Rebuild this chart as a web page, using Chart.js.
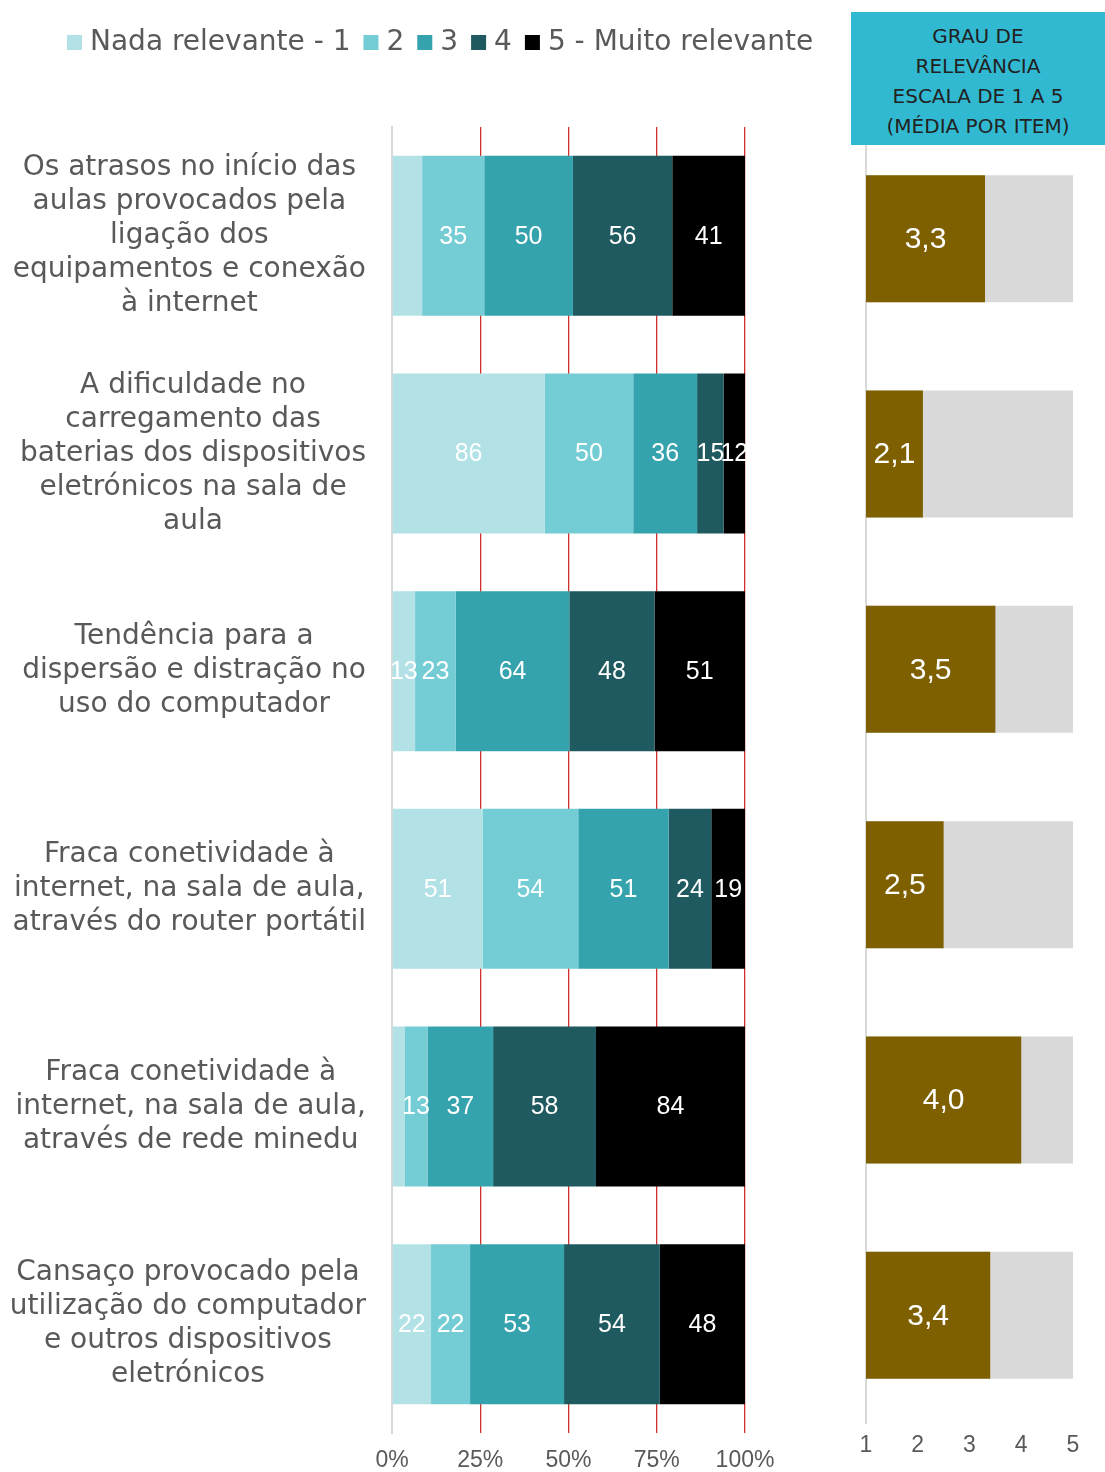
<!DOCTYPE html>
<html lang="pt">
<head>
<meta charset="UTF-8" />
<title>Grau de relevância</title>
<script src="https://cdn.jsdelivr.net/npm/chart.js"></script>
<style>
  body { margin: 0; background: #fff; }
  .pagina { position: relative; width: 1105px; height: 1472px; overflow: hidden; }
  .graf-esq { position: absolute; left: 0; top: 0; width: 850px; height: 1472px; }
  .graf-dir { position: absolute; left: 840px; top: 0; width: 265px; height: 1472px; }
  .caixa-titulo {
    position: absolute; left: 851px; top: 12px; width: 254px; height: 133px;
    background: #31B9D1; color: #222;
    font: 20px "DejaVu Sans", sans-serif; line-height: 30px; text-align: center;
    box-sizing: border-box; padding-top: 9px;
  }
</style>
</head>
<body>
<div class="pagina">
  <div class="graf-esq"><canvas id="grafEsq"></canvas></div>
  <div class="graf-dir"><canvas id="grafDir"></canvas></div>
  <div class="caixa-titulo">GRAU DE<br>RELEVÂNCIA<br>ESCALA DE 1 A 5<br>(MÉDIA POR ITEM)</div>
</div>

<script>
  // dados
  const categorias = [
    ["Os atrasos no início das", "aulas provocados pela", "ligação dos", "equipamentos e conexão", "à internet"],
    ["A dificuldade no", "carregamento das", "baterias dos dispositivos", "eletrónicos na sala de", "aula"],
    ["Tendência para a", "dispersão e distração no", "uso do computador"],
    ["Fraca conetividade à", "internet, na sala de aula,", "através do router portátil"],
    ["Fraca conetividade à", "internet, na sala de aula,", "através de rede minedu"],
    ["Cansaço provocado pela", "utilização do computador", "e outros dispositivos", "eletrónicos"]
  ];
  const nomesSeries = ["Nada relevante - 1", "2", "3", "4", "5 - Muito relevante"];
  const nivel1 = [17, 86, 13, 51, 7, 22];
  const nivel2 = [35, 50, 23, 54, 13, 22];
  const nivel3 = [50, 36, 64, 51, 37, 53];
  const nivel4 = [56, 15, 48, 24, 58, 54];
  const nivel5 = [41, 12, 51, 19, 84, 48];
  const mediaItem = [3.3, 2.1, 3.5, 2.5, 4.0, 3.4];
  const escalaMax = [5, 5, 5, 5, 5, 5];
  const ticksPct = [0, 25, 50, 75, 100];
  const ticksEscala = [1, 2, 3, 4, 5];
  // rótulos que não aparecem no original (serie, categoria) - só no gráfico da esquerda
  const semRotulo = [[0, 0], [0, 4]];

  const cores = ["#B2E2E6", "#74CDD5", "#35A3AD", "#1E5A5F", "#000000"];
  const cinzaTexto = "#595959";
  const fonteTexto = '"DejaVu Sans", sans-serif';
  const fonteNum = '"Liberation Sans", Arial, sans-serif';

  const niveis = [nivel1, nivel2, nivel3, nivel4, nivel5];
  const totais = nivel1.map((_, i) => niveis.reduce((s, n) => s + n[i], 0));

  // rótulos das categorias (linhas centradas, bloco alinhado à direita)
  const rotulosCategorias = {
    id: "rotulosCategorias",
    afterDraw(chart) {
      const ctx = chart.ctx;
      const y = chart.scales.y;
      const dirX = 366, alt = 34;
      ctx.save();
      ctx.font = "28px " + fonteTexto;
      ctx.fillStyle = cinzaTexto;
      ctx.textAlign = "center";
      ctx.textBaseline = "middle";
      categorias.forEach((linhas, i) => {
        const largura = Math.max(...linhas.map(l => ctx.measureText(l).width));
        const cx = dirX - largura / 2;
        const cy = y.getPixelForValue(i);
        const topo = cy - (linhas.length - 1) * alt / 2;
        linhas.forEach((l, k) => ctx.fillText(l, cx, topo + k * alt));
      });
      ctx.restore();
    }
  };

  // legenda desenhada à mão para ficar na posição do original
  const legendaTopo = {
    id: "legendaTopo",
    afterDraw(chart) {
      const ctx = chart.ctx;
      ctx.save();
      ctx.font = "28px " + fonteTexto;
      ctx.textBaseline = "middle";
      let x = 67;
      const cy = 43;
      chart.data.datasets.forEach((ds) => {
        ctx.fillStyle = ds.backgroundColor;
        ctx.fillRect(x, cy - 8, 15, 15);
        x += 15 + 8;
        ctx.fillStyle = cinzaTexto;
        ctx.fillText(ds.label, x, cy);
        x += ctx.measureText(ds.label).width + 13;
      });
      ctx.restore();
    }
  };

  // valores dentro das barras
  const rotulosBarras = {
    id: "rotulosBarras",
    afterDatasetsDraw(chart, args, opts) {
      const ctx = chart.ctx;
      const ocultos = opts.ocultos || [];
      ctx.save();
      ctx.font = opts.tamanho + "px " + fonteNum;
      ctx.fillStyle = "#fff";
      ctx.textAlign = "center";
      ctx.textBaseline = "middle";
      chart.data.datasets.forEach((ds, d) => {
        if (!ds.rotulos) return;
        chart.getDatasetMeta(d).data.forEach((bar, i) => {
          if (ocultos.some(p => p[0] === d && p[1] === i)) return;
          ctx.fillText(ds.rotulos[i], (bar.x + bar.base) / 2, bar.y + 1);
        });
      });
      ctx.restore();
    }
  };

  new Chart(document.getElementById("grafEsq"), {
    type: "bar",
    data: {
      labels: categorias.map(c => c.join(" ")),
      datasets: niveis.map((n, d) => ({
        label: nomesSeries[d],
        data: n.map((v, i) => v / totais[i] * 100),
        rotulos: n,
        backgroundColor: cores[d],
        categoryPercentage: 1,
        barPercentage: 0.735
      }))
    },
    options: {
      indexAxis: "y",
      responsive: true,
      maintainAspectRatio: false,
      animation: false,
      layout: { padding: { top: 127, right: 105, left: 0, bottom: 0 } },
      plugins: {
        legend: { display: false },
        tooltip: { enabled: false },
        rotulosBarras: { tamanho: 25, ocultos: semRotulo }
      },
      scales: {
        x: {
          stacked: true,
          min: 0,
          max: 100,
          afterBuildTicks: s => { s.ticks = ticksPct.map(v => ({ value: v })); },
          afterFit: s => { s.height = 39; },
          grid: {
            color: c => (c.tick && c.tick.value === 0) ? "rgba(0,0,0,0)" : "#D0312D",
            lineWidth: 1.3,
            drawTicks: false
          },
          border: { display: false },
          ticks: {
            padding: 14,
            color: cinzaTexto,
            font: { family: fonteNum, size: 23 },
            callback: v => v + "%"
          }
        },
        y: {
          stacked: true,
          afterFit: s => { s.width = 392; },
          grid: { display: false, drawTicks: false },
          border: { color: "#D9D9D9", width: 2 },
          ticks: { display: false }
        }
      }
    },
    plugins: [rotulosCategorias, legendaTopo, rotulosBarras]
  });

  new Chart(document.getElementById("grafDir"), {
    type: "bar",
    data: {
      labels: categorias.map(c => c.join(" ")),
      datasets: [
        {
          label: "Média",
          data: mediaItem,
          rotulos: mediaItem.map(v => v.toFixed(1).replace(".", ",")),
          backgroundColor: "#7F6000",
          base: 1,
          order: 1
        },
        {
          label: "Máximo",
          data: escalaMax,
          backgroundColor: "#D9D9D9",
          base: 1,
          order: 2
        }
      ]
    },
    options: {
      indexAxis: "y",
      responsive: true,
      maintainAspectRatio: false,
      animation: false,
      layout: { padding: { top: 131, right: 32, left: 0, bottom: 0 } },
      datasets: { bar: { grouped: false, categoryPercentage: 1, barPercentage: 0.59 } },
      plugins: {
        legend: { display: false },
        tooltip: { enabled: false },
        rotulosBarras: { tamanho: 30 }
      },
      scales: {
        x: {
          min: 1,
          max: 5,
          afterBuildTicks: s => { s.ticks = ticksEscala.map(v => ({ value: v })); },
          afterFit: s => { s.height = 49; },
          grid: { display: false, drawTicks: false },
          border: { display: false },
          ticks: {
            padding: 9,
            color: cinzaTexto,
            font: { family: fonteNum, size: 23 }
          }
        },
        y: {
          afterFit: s => { s.width = 26; },
          grid: { display: false, drawTicks: false },
          border: { color: "#D9D9D9", width: 2 },
          ticks: { display: false }
        }
      }
    },
    plugins: [rotulosBarras]
  });
</script>
</body>
</html>
